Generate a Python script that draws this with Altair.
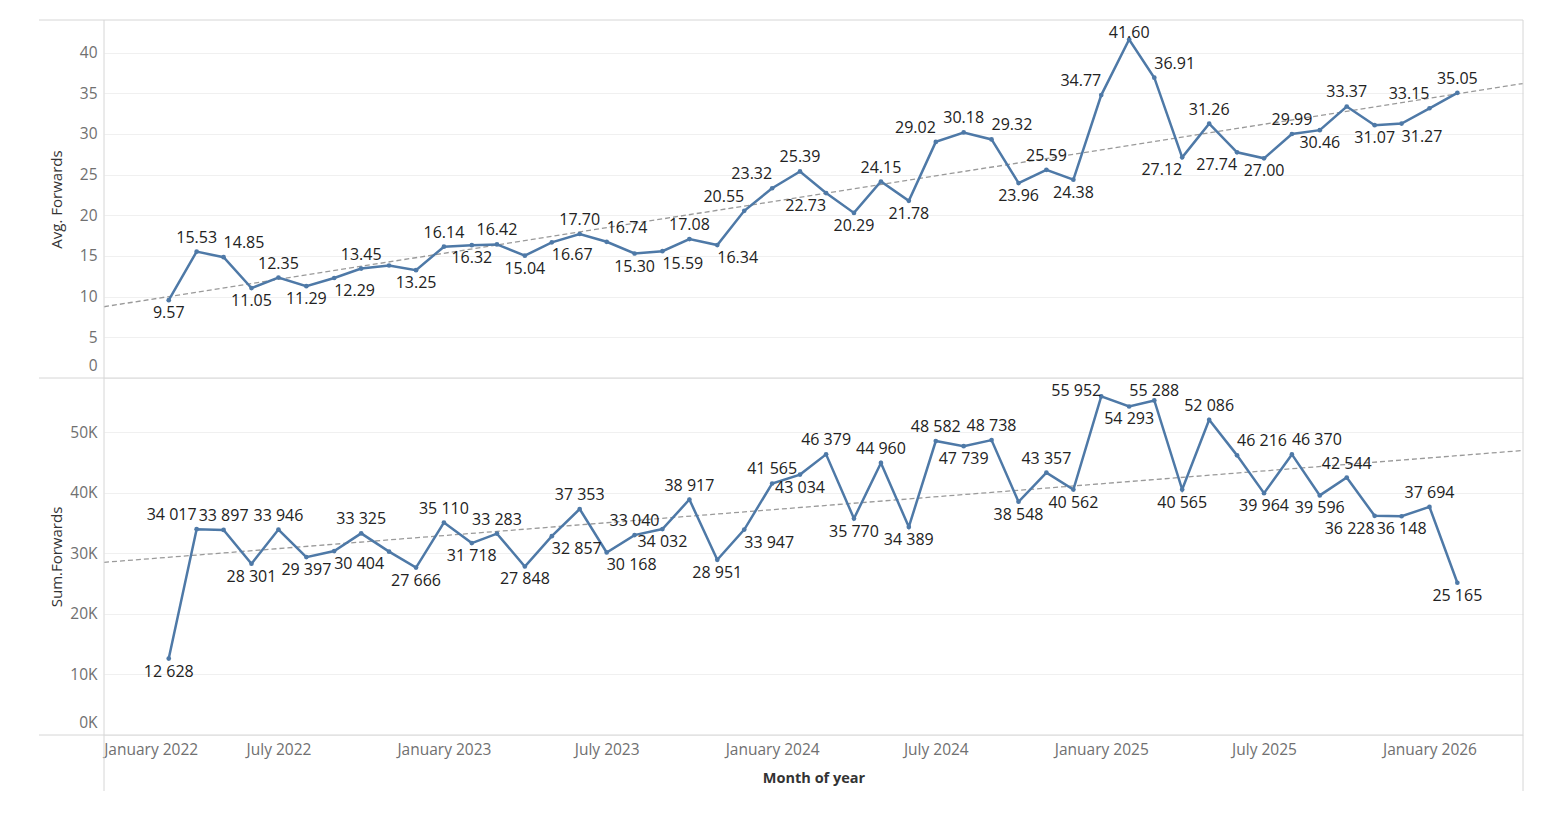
import altair as alt
import pandas as pd

# ---------------- data ----------------
months = pd.date_range("2022-03-01", "2026-02-01", freq="MS")

avg_forwards = [9.57, 15.53, 14.85, 11.05, 12.35, 11.29, 12.29, 13.45, 13.83, 13.25,
                16.14, 16.32, 16.42, 15.04, 16.67, 17.70, 16.74, 15.30, 15.59, 17.08,
                16.34, 20.55, 23.32, 25.39, 22.73, 20.29, 24.15, 21.78, 29.02, 30.18,
                29.32, 23.96, 25.59, 24.38, 34.77, 41.60, 36.91, 27.12, 31.26, 27.74,
                27.00, 29.99, 30.46, 33.37, 31.07, 31.27, 33.15, 35.05]

sum_forwards = [12628, 34017, 33897, 28301, 33946, 29397, 30404, 33325, 30300, 27666,
                35110, 31718, 33283, 27848, 32857, 37353, 30168, 33040, 34032, 38917,
                28951, 33947, 41565, 43034, 46379, 35770, 44960, 34389, 48582, 47739,
                48738, 38548, 43357, 40562, 55952, 54293, 55288, 40565, 52086, 46216,
                39964, 46370, 39596, 42544, 36228, 36148, 37694, 25165]

unlabeled_months = ["2022-11"]

avg_ticks = [0, 5, 10, 15, 20, 25, 30, 35, 40]
sum_ticks = [0, 10000, 20000, 30000, 40000, 50000]
x_tick_dates = ["2022-01-01", "2022-07-01", "2023-01-01", "2023-07-01", "2024-01-01",
                "2024-07-01", "2025-01-01", "2025-07-01", "2026-01-01"]
x_domain_dates = ["2021-12-19", "2026-04-15"]

# ---------------- layout constants ----------------
W = 1419
H_TOP = 358
H_BOT = 357
AVG_MAX = 44.0
SUM_MAX = 59000.0
FONT = "Open Sans"
FS = 16
BLUE = "#4e79a7"
BORDER = "#d6d6d6"
GRID = "#f0f0f0"
LABEL_GRAY = "#707070"
DY_ABOVE = -14
DY_BELOW = 13
TOP_CLEAR = 13
HALF_H = 8.5

EPOCH = pd.Timestamp("1970-01-01")


def to_ms(ts):
    return int((pd.Timestamp(ts) - EPOCH) // pd.Timedelta(milliseconds=1))


MS0, MS1 = to_ms(x_domain_dates[0]), to_ms(x_domain_dates[1])
tick_ms = [to_ms(d) for d in x_tick_dates]
t_vals = [to_ms(m) for m in months]
mstr = [m.strftime("%Y-%m") for m in months]
skip = [m in unlabeled_months for m in mstr]


def neighbours(vals, i):
    return [vals[j] for j in (i - 1, i + 1) if 0 <= j < len(vals)]


def sides(vals):
    out = []
    for i, v in enumerate(vals):
        nb = neighbours(vals, i)
        out.append("above" if v >= sum(nb) / len(nb) else "below")
    return out


def text_w(s):
    w = 0.0
    for c in s:
        w += 0.572 if c.isdigit() else (0.266 if c == "." else 0.26)
    return w * FS + 2


CAND_RANK = [0.0, 1.0, 1.2, 4.0, 5.0, 5.2]


def place_labels(vals, labels, ymax, height):
    """Collision-avoiding placement of value labels (Tableau-like)."""
    n = len(vals)
    px = [(t - MS0) / (MS1 - MS0) * W for t in t_vals]
    py = [height - v / ymax * height for v in vals]
    segs = [(px[i], py[i], px[i + 1], py[i + 1]) for i in range(n - 1)]
    pref = sides(vals)
    prom, extreme = [], []
    for i, v in enumerate(vals):
        nb = neighbours(vals, i)
        prom.append(abs(v - sum(nb) / len(nb)) / ymax)
        extreme.append(all(v > u for u in nb) or all(v < u for u in nb))
    order = [i for i in sorted(range(n), key=lambda i: (not extreme[i], -prom[i]))
             if not skip[i]]
    widths = [text_w(s) for s in labels]

    def cands(i):
        s = pref[i]
        o = "below" if s == "above" else "above"
        return [(s, "c"), (s, "l"), (s, "r"), (o, "c"), (o, "l"), (o, "r")]

    def box(i, c, hh=HALF_H, shrink=0.0):
        side, pos = c
        w = widths[i]
        ly = max(py[i] + DY_ABOVE, TOP_CLEAR) if side == "above" else py[i] + DY_BELOW
        if pos == "c":
            x0, x1 = px[i] - w / 2, px[i] + w / 2
        elif pos == "l":
            x0, x1 = px[i] - w, px[i]
        else:
            x0, x1 = px[i], px[i] + w
        return (x0 + shrink, ly - hh, x1 - shrink, ly + hh)

    def overlap(a, b):
        return a[0] < b[2] and b[0] < a[2] and a[1] < b[3] and b[1] < a[3]

    def seg_hits(b, sg):
        x0, y0, x1, y1 = sg
        if max(x0, x1) < b[0] or min(x0, x1) > b[2]:
            return False
        for k in range(41):
            f = k / 40
            x = x0 + (x1 - x0) * f
            y = y0 + (y1 - y0) * f
            if b[0] < x < b[2] and b[1] < y < b[3]:
                return True
        return False

    base_cost = {}
    boxes = {}
    for i in order:
        weight = 3.0 if extreme[i] else 1.0
        for k, c in enumerate(cands(i)):
            full = box(i, c)
            boxes[(i, c)] = full
            cost = CAND_RANK[k] * weight
            if full[0] < 0 or full[2] > W or full[3] > height:
                cost += 10000
            tight = box(i, c, 5.5, 3)
            if any(seg_hits(tight, sg) for sg in segs):
                cost += 40
            base_cost[(i, c)] = cost

    placement = {}

    def cost(i, c):
        s = base_cost[(i, c)]
        b = boxes[(i, c)]
        for j, cj in placement.items():
            if j != i and overlap(b, boxes[(j, cj)]):
                s += 100
        return s

    for i in order:
        placement[i] = min(cands(i), key=lambda c: cost(i, c))

    for _ in range(30):
        changed = False
        for i in order:
            cur = cost(i, placement[i])
            best = min(cands(i), key=lambda c: cost(i, c))
            if cost(i, best) < cur - 1e-9:
                placement[i] = best
                changed = True
        # joint moves for neighbouring pairs
        for a in order:
            for b in order:
                if a == b or abs(px[a] - px[b]) > 90:
                    continue
                pa, pb = placement[a], placement[b]
                cur = cost(a, pa) + cost(b, pb)
                best = None
                for ca in cands(a):
                    for cb in cands(b):
                        placement[a], placement[b] = ca, cb
                        tot = cost(a, ca) + cost(b, cb)
                        if tot < cur - 1e-9 and (best is None or tot < best[0]):
                            best = (tot, ca, cb)
                if best:
                    placement[a], placement[b] = best[1], best[2]
                    changed = True
                else:
                    placement[a], placement[b] = pa, pb
        if not changed:
            break

    return [placement[i][0] + "_" + placement[i][1] if i in placement else "none"
            for i in range(n)]


avg_labels = [f"{v:.2f}" for v in avg_forwards]
sum_labels = [f"{v:,}".replace(",", " ") for v in sum_forwards]

df = pd.DataFrame({
    "t": t_vals,
    "avg": avg_forwards,
    "sum": sum_forwards,
    "avg_label": avg_labels,
    "sum_label": sum_labels,
    "avg_place": place_labels(avg_forwards, avg_labels, AVG_MAX, H_TOP),
    "sum_place": place_labels(sum_forwards, sum_labels, SUM_MAX, H_BOT),
})

xscale = alt.Scale(type="utc", domain=[MS0, MS1])
one = alt.Chart(pd.DataFrame({"k": [0]}))


def hrule(ypix):
    return one.mark_rule(color=BORDER, strokeWidth=1).encode(
        x=alt.value(-65), x2=alt.value(W), y=alt.value(ypix))


def vrule(xpix, y2pix):
    return one.mark_rule(color=BORDER, strokeWidth=1).encode(
        x=alt.value(xpix), y=alt.value(0), y2=alt.value(y2pix))


def panel(field, label_field, place_field, ymax, yvalues, title, height, x_axis,
          label_expr=None, borders=()):
    x = alt.X("t:T", scale=xscale, axis=x_axis)
    axis_kw = dict(values=yvalues, title=title, grid=True, gridColor=GRID, gridWidth=1,
                   domain=False, ticks=False, labelPadding=7, labelFont=FONT,
                   labelFontSize=15.5, labelColor=LABEL_GRAY, titleFont=FONT,
                   titleFontSize=15, titleColor="#333333", titleFontWeight="normal",
                   titleX=-48, titleY=height / 2, titleBaseline="middle",
                   labelFlush=2, labelFlushOffset=-5)
    if label_expr:
        axis_kw["labelExpr"] = label_expr
    y = alt.Y(f"{field}:Q", scale=alt.Scale(domain=[0, ymax], nice=False, zero=False),
              axis=alt.Axis(**axis_kw))
    base = alt.Chart(df)
    cap = ymax * (height - (TOP_CLEAR - DY_ABOVE)) / height

    trend = base.transform_regression("t", field, extent=[MS0, MS1]).mark_line(
        color="#9a9a9a", strokeDash=[5, 3], strokeWidth=1.3).encode(x=x, y=y)
    line = base.mark_line(color=BLUE, strokeWidth=2.5).encode(x=x, y=y)
    pts = base.mark_circle(color=BLUE, size=22, opacity=1).encode(x=x, y=y)

    texts = []
    for side in ("above", "below"):
        for pos, align in (("c", "center"), ("l", "right"), ("r", "left")):
            ch = base.transform_filter(f"datum.{place_field} == '{side}_{pos}'")
            if side == "above":
                ch = ch.transform_calculate(**{field: f"min(datum.{field}, {cap})"})
            texts.append(ch.mark_text(
                dy=DY_ABOVE if side == "above" else DY_BELOW, font=FONT, fontSize=FS,
                color="#222222", baseline="middle", align=align
            ).encode(x=x, y=y, text=f"{label_field}:N"))

    layers = [trend, line, pts] + texts + list(borders)
    return alt.layer(*layers).properties(width=W, height=height)


top = panel("avg", "avg_label", "avg_place", AVG_MAX, avg_ticks, "Avg. Forwards", H_TOP,
            None, borders=[hrule(0), hrule(H_TOP), vrule(0, H_TOP), vrule(W, H_TOP)])

x_axis_bottom = alt.Axis(values=tick_ms, labelExpr="utcFormat(datum.value, '%B %Y')",
                         grid=False, domain=False, ticks=False, labelPadding=7,
                         labelFont=FONT, labelFontSize=15.5, labelColor=LABEL_GRAY,
                         labelFlush=20, labelFlushOffset=12, labelOverlap=False,
                         title="Month of year", titleFont=FONT, titleFontSize=14.5,
                         titleFontWeight="bold", titleColor="#333333", titlePadding=14)

bottom = panel("sum", "sum_label", "sum_place", SUM_MAX, sum_ticks, "Sum.Forwards", H_BOT,
               x_axis_bottom, label_expr="datum.value / 1000 + 'K'",
               borders=[hrule(H_BOT), vrule(0, H_BOT + 56), vrule(W, H_BOT + 56)])

chart = alt.vconcat(top, bottom, spacing=0, bounds="flush").properties(
    padding={"left": 30, "top": 11, "right": 30, "bottom": 10},
    background="white",
).configure_view(stroke=None)

chart.save("out.html", embed_options={"renderer": "svg", "actions": False})
